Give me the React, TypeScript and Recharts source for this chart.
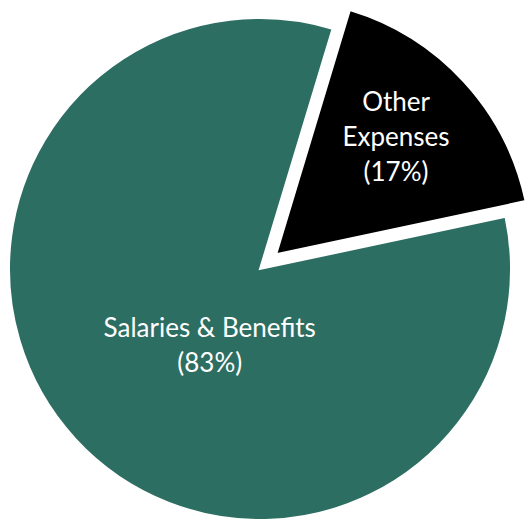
import { Cell, Pie, PieChart } from "recharts";

const CATEGORIES = ["Other Expenses", "Salaries & Benefits"];
const SHARES = [17, 83];
const LABEL_LINES = [["Other", "Expenses", "(17%)"], ["Salaries & Benefits", "(83%)"]];

const COLORS = ["#000000", "#2d6e63"];
const EXPLODED = 0;           // index of the slice pulled out
const EXPLODE_PX = 22;
const START = 73.2;           // recharts degrees, ccw from 3 o'clock
const CX = 260, CY = 269, R = 251;
// label placement per slice: fraction of radius and angular nudge off the mid-angle
const LABEL_RADIUS = [0.66, 0.36];
const LABEL_TURN = [2, 13.6];
const RAD = Math.PI / 180;

const data = CATEGORIES.map((name, i) => ({ name, value: SHARES[i] }));

// mid-angle of the exploded slice, to shift its pie along the bisector
const total = SHARES.reduce((a, b) => a + b, 0);
const before = SHARES.slice(0, EXPLODED).reduce((a, b) => a + b, 0);
const midExp = START - ((before + SHARES[EXPLODED] / 2) / total) * 360;
const EX = CX + Math.cos(midExp * RAD) * EXPLODE_PX;
const EY = CY - Math.sin(midExp * RAD) * EXPLODE_PX;

function makeLabel(only: number) {
  return (props: any) => {
    const { cx, cy, midAngle, outerRadius, index } = props;
    if (index !== only) return null;
    const a = (midAngle + LABEL_TURN[index]) * RAD;
    const r = outerRadius * LABEL_RADIUS[index];
    const x = cx + Math.cos(a) * r;
    const y = cy - Math.sin(a) * r;
    const lines = LABEL_LINES[index];
    const lh = 35;
    return (
      <text x={x} y={y} fill="#fff" textAnchor="middle" dominantBaseline="central"
        style={{ fontFamily: "Lato, sans-serif", fontSize: 26 }}>
        {lines.map((l, i) => (
          <tspan key={i} x={x} y={y + (i - (lines.length - 1) / 2) * lh}>{l}</tspan>
        ))}
      </text>
    );
  };
}

export default function App() {
  return (
    <div style={{ position: "fixed", left: 0, top: 0, width: 526, height: 526, background: "#fff" }}>
      <PieChart width={526} height={526} margin={{ top: 0, right: 0, bottom: 0, left: 0 }}>
        <Pie data={data} dataKey="value" nameKey="name" cx={CX} cy={CY} outerRadius={R}
          startAngle={START} endAngle={START - 360} stroke="#fff" strokeWidth={2}
          isAnimationActive={false} labelLine={false} label={makeLabel(1)}>
          {data.map((d, i) => (
            <Cell key={d.name} fill={i === EXPLODED ? "none" : COLORS[i]} stroke={i === EXPLODED ? "none" : "#fff"} />
          ))}
        </Pie>
        <Pie data={data} dataKey="value" nameKey="name" cx={EX} cy={EY} outerRadius={R + 4}
          startAngle={START} endAngle={START - 360} stroke="#fff" strokeWidth={2}
          isAnimationActive={false} labelLine={false} label={makeLabel(0)}>
          {data.map((d, i) => (
            <Cell key={d.name} fill={i === EXPLODED ? COLORS[i] : "none"} stroke={i === EXPLODED ? "#fff" : "none"} />
          ))}
        </Pie>
      </PieChart>
    </div>
  );
}
